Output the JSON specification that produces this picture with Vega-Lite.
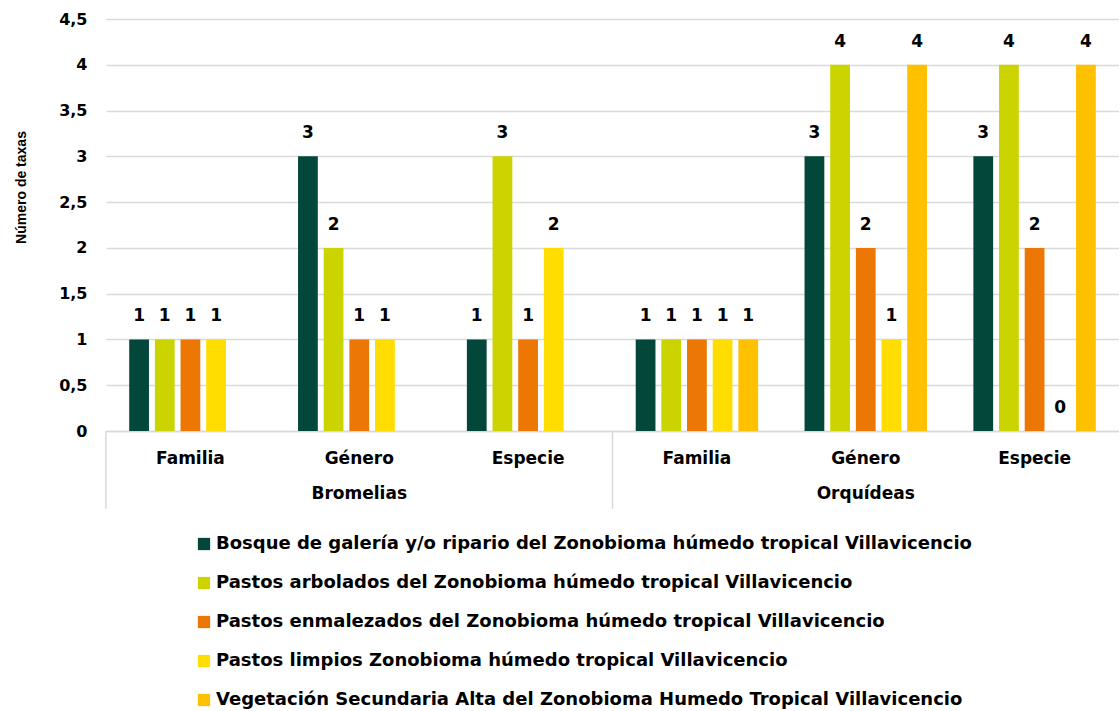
{
  "$schema": "https://vega.github.io/schema/vega-lite/v6.json",
  "background": "white",
  "padding": {"left": 14, "top": 11, "right": 0, "bottom": 0},
  "width": 1013,
  "height": 412,
  "config": {
    "font": "DejaVu Sans",
    "view": {"stroke": null}
  },
  "data": {"values": [
    {"grupo": "Bromelias", "nivel": "Familia", "cobertura": "Bosque de galería y/o ripario del Zonobioma húmedo tropical Villavicencio", "valor": 1},
    {"grupo": "Bromelias", "nivel": "Familia", "cobertura": "Pastos arbolados del Zonobioma húmedo tropical Villavicencio", "valor": 1},
    {"grupo": "Bromelias", "nivel": "Familia", "cobertura": "Pastos enmalezados del Zonobioma húmedo tropical Villavicencio", "valor": 1},
    {"grupo": "Bromelias", "nivel": "Familia", "cobertura": "Pastos limpios Zonobioma húmedo tropical Villavicencio", "valor": 1},
    {"grupo": "Bromelias", "nivel": "Género", "cobertura": "Bosque de galería y/o ripario del Zonobioma húmedo tropical Villavicencio", "valor": 3},
    {"grupo": "Bromelias", "nivel": "Género", "cobertura": "Pastos arbolados del Zonobioma húmedo tropical Villavicencio", "valor": 2},
    {"grupo": "Bromelias", "nivel": "Género", "cobertura": "Pastos enmalezados del Zonobioma húmedo tropical Villavicencio", "valor": 1},
    {"grupo": "Bromelias", "nivel": "Género", "cobertura": "Pastos limpios Zonobioma húmedo tropical Villavicencio", "valor": 1},
    {"grupo": "Bromelias", "nivel": "Especie", "cobertura": "Bosque de galería y/o ripario del Zonobioma húmedo tropical Villavicencio", "valor": 1},
    {"grupo": "Bromelias", "nivel": "Especie", "cobertura": "Pastos arbolados del Zonobioma húmedo tropical Villavicencio", "valor": 3},
    {"grupo": "Bromelias", "nivel": "Especie", "cobertura": "Pastos enmalezados del Zonobioma húmedo tropical Villavicencio", "valor": 1},
    {"grupo": "Bromelias", "nivel": "Especie", "cobertura": "Pastos limpios Zonobioma húmedo tropical Villavicencio", "valor": 2},
    {"grupo": "Orquídeas", "nivel": "Familia", "cobertura": "Bosque de galería y/o ripario del Zonobioma húmedo tropical Villavicencio", "valor": 1},
    {"grupo": "Orquídeas", "nivel": "Familia", "cobertura": "Pastos arbolados del Zonobioma húmedo tropical Villavicencio", "valor": 1},
    {"grupo": "Orquídeas", "nivel": "Familia", "cobertura": "Pastos enmalezados del Zonobioma húmedo tropical Villavicencio", "valor": 1},
    {"grupo": "Orquídeas", "nivel": "Familia", "cobertura": "Pastos limpios Zonobioma húmedo tropical Villavicencio", "valor": 1},
    {"grupo": "Orquídeas", "nivel": "Familia", "cobertura": "Vegetación Secundaria Alta del Zonobioma Humedo Tropical Villavicencio", "valor": 1},
    {"grupo": "Orquídeas", "nivel": "Género", "cobertura": "Bosque de galería y/o ripario del Zonobioma húmedo tropical Villavicencio", "valor": 3},
    {"grupo": "Orquídeas", "nivel": "Género", "cobertura": "Pastos arbolados del Zonobioma húmedo tropical Villavicencio", "valor": 4},
    {"grupo": "Orquídeas", "nivel": "Género", "cobertura": "Pastos enmalezados del Zonobioma húmedo tropical Villavicencio", "valor": 2},
    {"grupo": "Orquídeas", "nivel": "Género", "cobertura": "Pastos limpios Zonobioma húmedo tropical Villavicencio", "valor": 1},
    {"grupo": "Orquídeas", "nivel": "Género", "cobertura": "Vegetación Secundaria Alta del Zonobioma Humedo Tropical Villavicencio", "valor": 4},
    {"grupo": "Orquídeas", "nivel": "Especie", "cobertura": "Bosque de galería y/o ripario del Zonobioma húmedo tropical Villavicencio", "valor": 3},
    {"grupo": "Orquídeas", "nivel": "Especie", "cobertura": "Pastos arbolados del Zonobioma húmedo tropical Villavicencio", "valor": 4},
    {"grupo": "Orquídeas", "nivel": "Especie", "cobertura": "Pastos enmalezados del Zonobioma húmedo tropical Villavicencio", "valor": 2},
    {"grupo": "Orquídeas", "nivel": "Especie", "cobertura": "Pastos limpios Zonobioma húmedo tropical Villavicencio", "valor": 0},
    {"grupo": "Orquídeas", "nivel": "Especie", "cobertura": "Vegetación Secundaria Alta del Zonobioma Humedo Tropical Villavicencio", "valor": 4}
  ]},
  "transform": [{"calculate": "datum.grupo + '|' + datum.nivel", "as": "eje"}],
  "encoding": {
    "x": {
      "field": "eje", "type": "nominal",
      "sort": ["Bromelias|Familia", "Bromelias|Género", "Bromelias|Especie", "Orquídeas|Familia", "Orquídeas|Género", "Orquídeas|Especie"],
      "scale": {"paddingInner": 0.24, "paddingOuter": 0.12},
      "axis": {
        "title": null, "labelAngle": 0, "ticks": false,
        "labelExpr": "split(datum.label, '|')[1]",
        "domainColor": "#d9d9d9", "domainWidth": 1.5,
        "labelFont": "DejaVu Sans", "labelFontWeight": "bold", "labelFontSize": 17,
        "labelColor": "#000000", "labelPadding": 19
      }
    },
    "y": {
      "field": "valor", "type": "quantitative",
      "scale": {"domain": [0, 4.5], "nice": false},
      "axis": {
        "title": "Número de taxas",
        "values": [0, 0.5, 1, 1.5, 2, 2.5, 3, 3.5, 4, 4.5],
        "labelExpr": "replace(toString(datum.value), '.', ',')",
        "domain": false, "ticks": false,
        "gridColor": "#d9d9d9", "gridWidth": 1.5,
        "labelFont": "DejaVu Sans", "labelFontWeight": "bold", "labelFontSize": 16,
        "labelColor": "#000000", "labelPadding": 19,
        "titleFont": "Liberation Sans", "titleFontWeight": "bold", "titleFontSize": 14,
        "titleColor": "#000000", "titlePadding": 30, "titleY": 168
      }
    }
  },
  "layer": [
    {
      "mark": {"type": "bar"},
      "encoding": {
        "xOffset": {
          "field": "cobertura", "type": "nominal",
          "scale": {
            "domain": [
              "Bosque de galería y/o ripario del Zonobioma húmedo tropical Villavicencio",
              "Pastos arbolados del Zonobioma húmedo tropical Villavicencio",
              "Pastos enmalezados del Zonobioma húmedo tropical Villavicencio",
              "Pastos limpios Zonobioma húmedo tropical Villavicencio",
              "Vegetación Secundaria Alta del Zonobioma Humedo Tropical Villavicencio"
            ],
            "paddingInner": 0.23, "paddingOuter": 0.115
          }
        },
        "color": {
          "field": "cobertura", "type": "nominal",
          "scale": {
            "domain": [
              "Bosque de galería y/o ripario del Zonobioma húmedo tropical Villavicencio",
              "Pastos arbolados del Zonobioma húmedo tropical Villavicencio",
              "Pastos enmalezados del Zonobioma húmedo tropical Villavicencio",
              "Pastos limpios Zonobioma húmedo tropical Villavicencio",
              "Vegetación Secundaria Alta del Zonobioma Humedo Tropical Villavicencio"
            ],
            "range": ["#03473a", "#ccd400", "#ec7704", "#ffdd00", "#ffc000"]
          },
          "legend": {
            "title": null,
            "orient": "none",
            "legendX": 89,
            "legendY": 516,
            "direction": "vertical",
            "symbolType": "square",
            "symbolSize": 150,
            "symbolStrokeWidth": 0,
            "labelFont": "DejaVu Sans",
            "labelFontWeight": "bold",
            "labelFontSize": 18,
            "labelColor": "#000000",
            "labelLimit": 1000,
            "labelOffset": 3,
            "rowPadding": 21,
            "labelExpr": "(indexof(datum.value, 'Pastos arbolados') === 0 || indexof(datum.value, 'Pastos enmalezados') === 0) ? '\u2002' + datum.value : datum.value"
          }
        }
      }
    },
    {
      "mark": {"type": "text", "baseline": "bottom", "dy": -14, "font": "DejaVu Sans", "fontWeight": "bold", "fontSize": 17, "color": "#000000"},
      "encoding": {
        "xOffset": {"field": "cobertura", "type": "nominal"},
        "text": {"field": "valor", "type": "quantitative"}
      }
    },
    {
      "transform": [{"filter": "datum.nivel == 'Género' && indexof(datum.cobertura, 'Bosque') == 0"}],
      "mark": {"type": "text", "baseline": "middle", "font": "DejaVu Sans", "fontWeight": "bold", "fontSize": 17, "color": "#000000"},
      "encoding": {
        "y": {"datum": -0.69, "type": "quantitative"},
        "text": {"field": "grupo", "type": "nominal"}
      }
    },
    {
      "transform": [{"filter": "datum.nivel == 'Familia' && indexof(datum.cobertura, 'Bosque') == 0"}],
      "mark": {"type": "rule", "color": "#d9d9d9", "strokeWidth": 1.5},
      "encoding": {
        "x": {"field": "eje", "type": "nominal", "bandPosition": -0.158},
        "y": {"datum": 0, "type": "quantitative"},
        "y2": {"datum": -0.85}
      }
    }
  ]
}
